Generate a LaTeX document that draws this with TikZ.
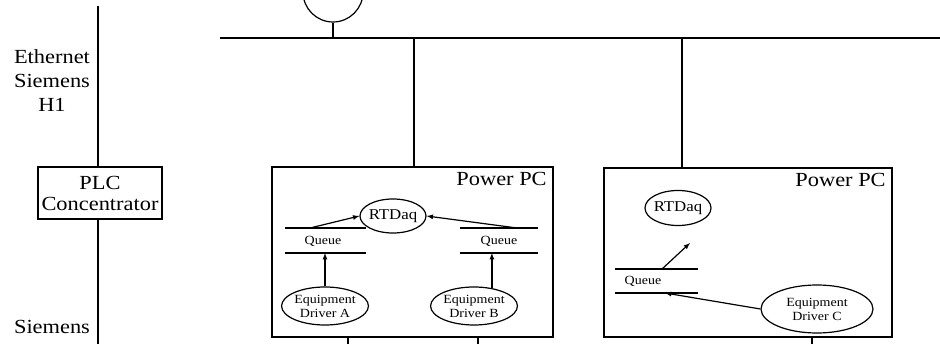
\documentclass[tikz,border=0pt]{standalone}
\usepackage{fontspec}
\setmainfont{Liberation Serif}[FakeStretch=1.12]
\usetikzlibrary{shapes.geometric}
\begin{document}
\begin{tikzpicture}[x=1pt, y=-1pt, line width=1.2pt, >=latex,
  every node/.style={font=\fontsize{20}{24}\selectfont},
  proc/.style={draw, ellipse, inner sep=0pt, fill=white},
  daq/.style={proc, inner xsep=-2pt, minimum width=66pt, font=\fontsize{15}{18}\selectfont},
  small/.style={font=\fontsize{12.5}{14}\selectfont, align=center}]
  \useasboundingbox (0,0) rectangle (940,344);
  % networks
  \coordinate (E1) at (98,6); \coordinate (E2) at (98,344);
  \coordinate (B1) at (220,38); \coordinate (B2) at (940,38);
  \draw (E1)--(E2); \draw (B1)--(B2);
  \node[align=center] (eth) at (52,81) {Ethernet\\Siemens\\H1};
  \node (sie) at (52,327) {Siemens};
  \node[draw, fill=white, align=center, minimum width=124pt, minimum height=52pt,
    inner sep=0pt, font=\fontsize{20}{21}\selectfont] (plc) at (100,193) {PLC\\Concentrator};
  \node[draw, circle, minimum size=60pt] (tap) at (333,-8) {};
  \draw (tap.south) -- (tap.south |- B1);
  % power pc boxes
  \node[draw, minimum width=281pt, minimum height=170pt] (pc1) at (412.5,252) {};
  \node[draw, minimum width=288pt, minimum height=169pt] (pc2) at (748,252.5) {};
  \node[anchor=north east] at ([xshift=-3pt,yshift=-2pt]pc1.north east) {Power PC};
  \node[anchor=north east] at ([xshift=-3pt,yshift=-2pt]pc2.north east) {Power PC};
  \coordinate (d1) at (414,38); \coordinate (d2) at (682,38);
  \draw (d1) -- (d1 |- pc1.north); \draw (d2) -- (d2 |- pc2.north);
  \coordinate (s1) at (348,344); \coordinate (s2) at (478,344); \coordinate (s3) at (812,344);
  \draw (s1) -- (s1 |- pc1.south); \draw (s2) -- (s2 |- pc1.south);
  \draw (s3) -- (s3 |- pc2.south);
  % first box
  \node[daq, minimum height=34pt] (rt1) at (393,216) {RTDaq};
  \coordinate (qa1) at (285,228); \coordinate (qa2) at (366,228);
  \coordinate (qa3) at (285,253); \coordinate (qa4) at (366,253);
  \draw (qa1)--(qa2) (qa3)--(qa4);
  \node[small] (qa) at (323,241) {Queue};
  \coordinate (qb1) at (460,228); \coordinate (qb2) at (538,228);
  \coordinate (qb3) at (460,253); \coordinate (qb4) at (538,253);
  \draw (qb1)--(qb2) (qb3)--(qb4);
  \node[small] (qb) at (499,241) {Queue};
  \node[proc, small, minimum width=80pt, minimum height=38pt] (drvA) at (325,306) {Equipment\\Driver A};
  \node[proc, small, minimum width=84pt, minimum height=38pt] (drvB) at (474,306) {Equipment\\Driver B};
  \coordinate (pa) at (310,228); \coordinate (pb) at (517,228);
  \draw[->] (pa) -- (rt1.west);
  \draw[->] (pb) -- (rt1.east);
  \draw[->] (drvA.north) -- (drvA.north |- qa3);
  \draw[->] (drvB.45) -- (drvB.45 |- qb3);
  % second box
  \node[daq, minimum height=35pt] (rt2) at (678,208) {RTDaq};
  \coordinate (qc1) at (615,269); \coordinate (qc2) at (698,269);
  \coordinate (qc3) at (615,293); \coordinate (qc4) at (698,293);
  \draw (qc1)--(qc2) (qc3)--(qc4);
  \node[small] (qc) at (643,281) {Queue};
  \node[proc, small, minimum width=112pt, minimum height=48pt] (drvC) at (817,309) {Equipment\\Driver C};
  \coordinate (pc) at (662,269); \coordinate (pe) at (690,243);
  \coordinate (pd) at (665,293);
  \draw[->] (pc) -- (pe);
  \draw[->] (drvC.west) -- (pd);
\end{tikzpicture}
\end{document}
